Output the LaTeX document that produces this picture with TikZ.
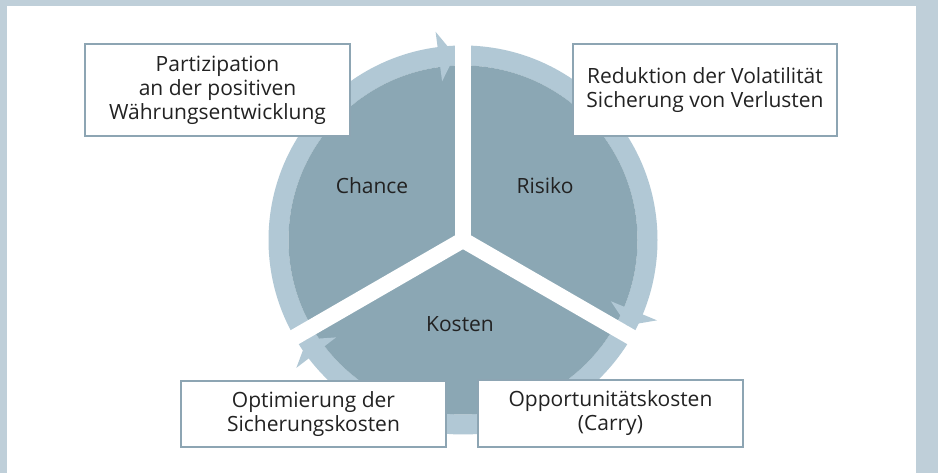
\documentclass[tikz,border=0pt]{standalone}
\usepackage{fontspec}
\setmainfont{Open Sans}
\usetikzlibrary{calc}
\definecolor{frame}{HTML}{BFCFD9}
\definecolor{pie}{HTML}{8BA7B4}
\definecolor{band}{HTML}{B1C8D5}
\definecolor{boxline}{HTML}{8DA5B3}
\definecolor{txt}{HTML}{222222}
\begin{document}
\begin{tikzpicture}[x=1pt,y=1pt,
  infobox/.style={draw=boxline, line width=1.6pt, fill=white, align=center, text=txt,
    font=\fontsize{21}{24}\selectfont, inner sep=0pt},
  seglabel/.style={text=txt, font=\fontsize{21}{24}\selectfont},
  gap/.style={white, line width=16pt},
  head/.style={fill=band, draw=none}]
\useasboundingbox (0,0) rectangle (938,473);
\fill[frame] (0,0) rectangle (938,473);
\fill[white] (7,0) rectangle (916,467);
\coordinate (C) at (463,233);
% band ring
\draw[band, line width=20pt] (C) circle[radius=184.5];
% pie
\fill[pie] (C) circle[radius=174.5];
% gaps
\draw[gap] (C) -- ++(90:205);
\draw[gap] (C) -- ++(-30:205);
\draw[gap] (C) -- ++(210:205);
% arrow heads
\fill[head] ($(C)+(92.5:185)$) -- ($(C)+(97.5:160)$) -- ($(C)+(97.5:210)$) -- cycle;
\fill[head] ($(C)+(-27.5:185)$) -- ($(C)+(-22.5:160)$) -- ($(C)+(-22.5:210)$) -- cycle;
\fill[head] ($(C)+(212.5:185)$) -- ($(C)+(217.5:160)$) -- ($(C)+(217.5:210)$) -- cycle;
% segment labels
\node[seglabel] (chance) at (372,287) {Chance};
\node[seglabel] (risiko) at (545,287) {Risiko};
\node[seglabel] (kosten) at (460,149) {Kosten};
% boxes
\node[infobox, minimum width=265pt, minimum height=92pt] (tl) at (217.5,383)
  {Partizipation\\an der positiven\\Währungsentwicklung};
\node[infobox, minimum width=264pt, minimum height=92pt] (tr) at (705,383)
  {Reduktion der Volatilität\\Sicherung von Verlusten};
\node[infobox, minimum width=265pt, minimum height=66pt] (bl) at (313.5,59)
  {Optimierung der\\Sicherungskosten};
\node[infobox, minimum width=265pt, minimum height=67pt] (br) at (610.5,59.5)
  {Opportunitätskosten\\(Carry)};
\end{tikzpicture}
\end{document}
